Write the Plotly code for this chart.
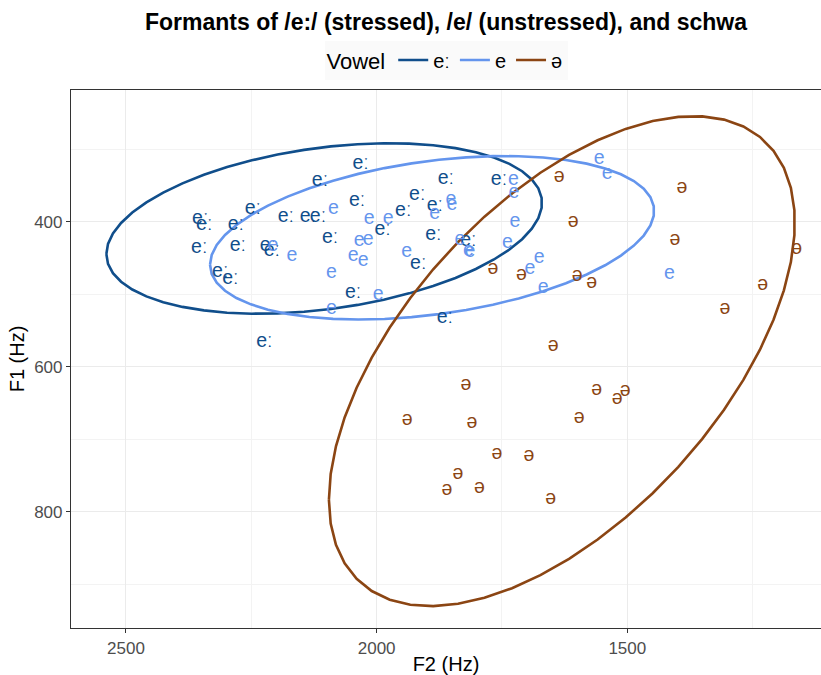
import numpy as np
import plotly.graph_objects as go

# ---- data (Hz) ----
ee_F2 = [2352, 2344, 2247, 2281, 2181, 2137, 2117, 2354, 2277, 2217, 2209, 2312, 2292, 2224,
         2032, 2113, 1862, 1756, 2039, 1919, 1947, 1884, 1988, 2093, 1887, 1817, 1917, 2047, 1864]
ee_F1 = [397, 405, 382, 404, 394, 394, 394, 437, 433, 433, 440, 469, 479, 566,
         321, 344, 341, 343, 372, 363, 386, 379, 411, 422, 418, 427, 459, 498, 533]

e_F2 = [2086, 2015, 1977, 2035, 2017, 2047, 2027, 1940, 2090, 1997, 2090, 1884, 1852, 1850, 1834,
        1817, 1814, 1727, 1726, 1724, 1739, 1676, 1694, 1668, 1556, 1540, 1416, 2207, 2169]
e_F1 = [382, 396, 396, 427, 426, 448, 455, 442, 471, 501, 521, 390, 370, 377, 425,
        441, 442, 343, 360, 401, 430, 450, 465, 491, 314, 334, 472, 433, 448]

schwa_F2 = [1636, 1391, 1608, 1405, 1768, 1711, 1600, 1571, 1162, 1230, 1305, 1648, 1822,
            1561, 1504, 1520, 1939, 1810, 1596, 1760, 1696, 1838, 1860, 1795, 1653]
schwa_F1 = [338, 354, 401, 425, 465, 473, 475, 485, 438, 487, 520, 571, 625,
            632, 634, 645, 673, 678, 671, 721, 723, 748, 770, 767, 783]

vowels = ["eː", "e", "ə"]
colors = ["#104E8B", "#6495ED", "#8B4513"]
series = [(ee_F2, ee_F1), (e_F2, e_F1), (schwa_F2, schwa_F1)]

x_ticks = [2500, 2000, 1500]
y_ticks = [400, 600, 800]


def cov_trob(x, nu=5, maxit=25, tol=0.01):
    n, p = x.shape
    wt = np.ones(n)
    loc = x.mean(axis=0)
    w = np.sqrt(wt)
    for _ in range(maxit):
        w0 = w
        X = x - loc
        _, d, vt = np.linalg.svd(np.sqrt(w / w.sum())[:, None] * X, full_matrices=False)
        wX = X @ vt.T @ np.diag(1 / d)
        Q = (wX ** 2).sum(axis=1)
        w = (wt * (nu + p)) / (nu + Q)
        loc = (w[:, None] * x).sum(axis=0) / w.sum()
        if np.all(np.abs(w - w0) < tol):
            break
    X = x - loc
    cov = (np.sqrt(w)[:, None] * X).T @ (np.sqrt(w)[:, None] * X) / wt.sum()
    return loc, cov


def stat_ellipse(xv, yv, level=0.95, segments=51):
    data = np.column_stack([xv, yv]).astype(float)
    center, shape = cov_trob(data)
    chol = np.linalg.cholesky(shape).T  # upper triangular like R chol
    dfd = len(xv) - 1
    fq = (dfd / 2) * ((1 - level) ** (-2 / dfd) - 1)
    radius = np.sqrt(2 * fq)
    ang = np.arange(segments + 1) * 2 * np.pi / segments
    circ = np.column_stack([np.cos(ang), np.sin(ang)])
    ell = center + radius * (circ @ chol)
    return ell[:, 0], ell[:, 1]


fig = go.Figure()
FONT = "Liberation Sans, Arial, DejaVu Sans"

for v, c, (fx, fy) in zip(vowels, colors, series):
    ex, ey = stat_ellipse(fx, fy)
    fig.add_trace(go.Scatter(x=ex, y=ey, mode="lines", name=v,
                             line=dict(color=c, width=2.6), hoverinfo="skip"))

for v, c, (fx, fy) in zip(vowels, colors, series):
    fig.add_trace(go.Scatter(x=fx, y=fy, mode="text", text=[v] * len(fx),
                             textposition="middle center", showlegend=False,
                             textfont=dict(color=c, size=19.5, family=FONT)))

fig.update_layout(
    width=821, height=675,
    margin=dict(l=71, r=0, t=90, b=47),
    paper_bgcolor="white", plot_bgcolor="white",
    font=dict(family=FONT, color="black"),
    title=dict(text="<b>Formants of /e:/ (stressed), /e/ (unstressed), and schwa</b>",
               x=0.5, xref="paper", xanchor="center", y=1 - 22 / 675, yanchor="middle",
               font=dict(size=23, color="black", family=FONT)),
    legend=dict(orientation="h", x=0.5, xanchor="center", xref="paper",
                y=1.092, yanchor="top", yref="paper",
                title=dict(text="Vowel", font=dict(size=22)),
                font=dict(size=20, family=FONT), bgcolor="#fafafa",
                itemwidth=30, tracegroupgap=0),
    xaxis=dict(range=[2609.7, 1113.6], tickvals=x_ticks, ticktext=[str(t) for t in x_ticks],
               showgrid=True, gridcolor="#ebebeb", gridwidth=1.1,
               minor=dict(tickvals=[2250, 1750, 1250], showgrid=True, gridcolor="#f3f3f3", gridwidth=0.8),
               showline=True, linecolor="#333333", linewidth=1.2, mirror=True,
               ticks="outside", ticklen=4, tickcolor="#333333", tickwidth=1,
               tickfont=dict(size=17, color="#4d4d4d"), zeroline=False,
               title=dict(text="F2 (Hz)", font=dict(size=20, color="black"), standoff=4)),
    yaxis=dict(range=[960.4, 218.3], tickvals=y_ticks, ticktext=[str(t) for t in y_ticks],
               showgrid=True, gridcolor="#ebebeb", gridwidth=1.1,
               minor=dict(tickvals=[300, 500, 700, 900], showgrid=True, gridcolor="#f3f3f3", gridwidth=0.8),
               showline=True, linecolor="#333333", linewidth=1.2, mirror=True,
               ticks="outside", ticklen=4, tickcolor="#333333", tickwidth=1,
               tickfont=dict(size=17, color="#4d4d4d"), zeroline=False,
               title=dict(text="F1 (Hz)", font=dict(size=20, color="black"), standoff=4)),
)

fig.write_html("out.html")
